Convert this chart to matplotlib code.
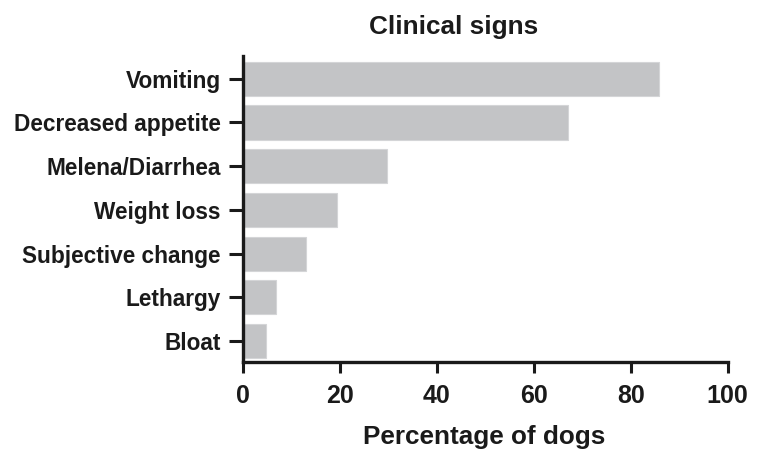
import matplotlib
matplotlib.use("Agg")
import matplotlib.pyplot as plt
from matplotlib import font_manager

names = {f.name for f in font_manager.fontManager.ttflist}
family = "Liberation Sans Narrow" if "Liberation Sans Narrow" in names else "Liberation Sans"
plt.rcParams["font.family"] = [family, "DejaVu Sans"]
plt.rcParams["font.weight"] = "bold"

signs = ["Vomiting", "Decreased appetite", "Melena/Diarrhea", "Weight loss",
         "Subjective change", "Lethargy", "Bloat"]
percent = [85.8, 67.1, 29.6, 19.4, 12.9, 6.7, 4.7]
xticks = [0, 20, 40, 60, 80, 100]

BAR_GREY = "#c3c4c6"
INK = "#1a1a1a"

fig = plt.figure(figsize=(7.62, 4.65), dpi=100)
ax = fig.add_axes([0.319, 0.2215, 0.636, 0.658])

ypos = list(range(len(signs)))
ax.barh(ypos, percent, height=0.78, color=BAR_GREY, edgecolor="#d4d5d7",
        linewidth=0.8)
ax.set_ylim(6.48, -0.52)
ax.set_xlim(0, 100)
ax.set_yticks(ypos)
ax.set_yticklabels(signs)
ax.set_xticks(xticks)

for side in ("top", "right"):
    ax.spines[side].set_visible(False)
for side in ("left", "bottom"):
    ax.spines[side].set_linewidth(2.4)
    ax.spines[side].set_color(INK)
    ax.spines[side].set_zorder(3)

ax.tick_params(axis="y", length=10, width=2.2, pad=6, labelsize=16.3,
               colors=INK)
ax.tick_params(axis="x", length=8, width=2.2, pad=8, labelsize=18,
               colors=INK)

fig.text(0.595, 0.942, "Clinical signs", ha="center", va="center",
         fontsize=18.8, fontweight="bold", color=INK)
fig.text(0.635, 0.06, "Percentage of dogs", ha="center", va="center",
         fontsize=18.8, fontweight="bold", color=INK)

fig.savefig("out.png", dpi=100)
